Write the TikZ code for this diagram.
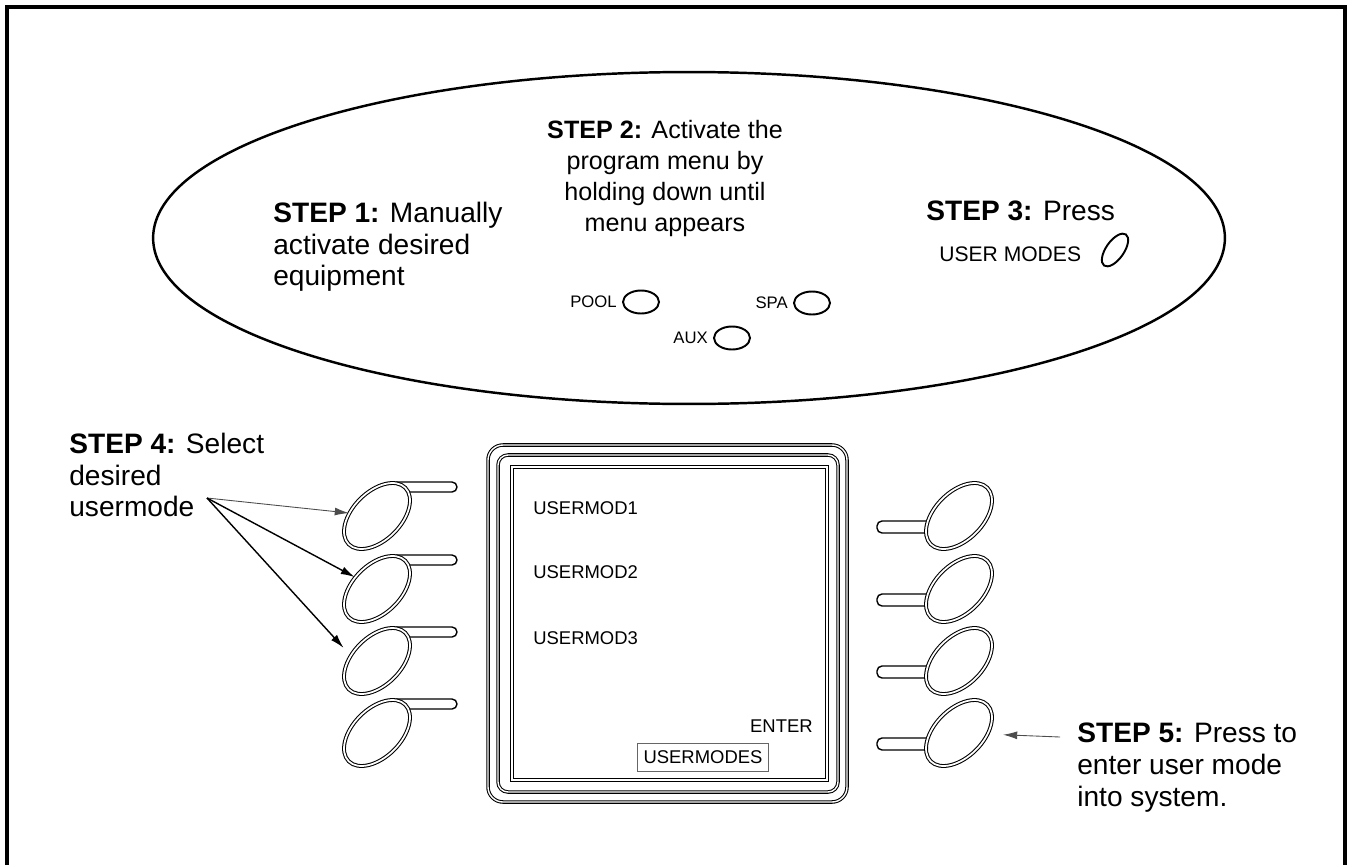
\documentclass[tikz,border=0pt]{standalone}
\usepackage{fontspec}
\setmainfont{Liberation Sans}
\usetikzlibrary{shapes.geometric, arrows.meta, positioning}

\begin{document}
\begin{tikzpicture}[x=0.02cm, y=-0.02cm,
    steptext/.style={font=\fontsize{16}{18}\selectfont, align=left, inner sep=0pt},
    ukey/.style={draw, ellipse, double, line width=.6pt, double distance=1pt, fill=white, minimum width=1.6cm, minimum height=.96cm, inner sep=0pt, rotate=45},
    keystem/.style={draw, line width=.8pt, rounded corners=.1cm},
    modekey/.style={draw, ellipse, line width=1.1pt, minimum width=.72cm, minimum height=.46cm, inner sep=0pt},
    keylabel/.style={font=\fontsize{9.5}{11}\selectfont, inner sep=0pt},
    lcdtext/.style={font=\fontsize{10.5}{12}\selectfont, inner sep=0pt},
    lcdframe/.style={double, line width=.6pt, double distance=.8pt},
    pointer/.style={-{Latex[length=8pt,width=4.5pt]}, line width=.8pt}]
        \useasboundingbox (0,0) rectangle (1351,865);
        \draw[line width=1.8pt] (7,865) -- (7,7) -- (1345,7) -- (1345,865);

        % control panel
        \node[draw, ellipse, line width=1.4pt, minimum width=21.44cm, minimum height=6.64cm, inner sep=0pt] (panel) at (689,238) {};
        \node[steptext, anchor=north west] (step1) at (273,202) {\textbf{STEP 1:} Manually\\activate desired\\equipment};
        \node[steptext, font=\fontsize{14.3}{17.6}\selectfont, align=center, anchor=north] (step2) at (665,120) {\textbf{STEP 2:} Activate the\\program menu by\\holding down until\\menu appears};
        \node[steptext, anchor=base west] (step3) at (926,220) {\textbf{STEP 3:} Press};
        \node[font=\fontsize{12}{14}\selectfont, inner sep=0pt, anchor=base west] (umlabel) at (939,261) {USER MODES};
        \node[modekey, minimum width=.76cm, minimum height=.36cm, rotate=55] (umkey) at (1115,250) {};

        \node[modekey] (pool) at (641,302) {};
        \node[modekey] (spa) at (812,303) {};
        \node[modekey] (aux) at (732,338) {};
        \node[keylabel, left=.1cm of pool] (poollabel) {POOL};
        \node[keylabel, left=.1cm of spa] (spalabel) {SPA};
        \node[keylabel, left=.1cm of aux] (auxlabel) {AUX};

        % display
        \draw[lcdframe, rounded corners=.3cm] (488,445) rectangle (847,802);
        \draw[lcdframe, rounded corners=.2cm] (498,455) rectangle (838,792);
        \draw[lcdframe] (512,467) rectangle (827,780);
        \node[lcdtext, anchor=base west] (mod1) at (533,514) {USERMOD1};
        \node[lcdtext, anchor=base west] (mod2) at (533,578) {USERMOD2};
        \node[lcdtext, anchor=base west] (mod3) at (533,644) {USERMOD3};
        \node[lcdtext, anchor=base east] (enter) at (813,732) {ENTER};
        \node[lcdtext, draw=black!60, line width=.5pt, inner xsep=.12cm, minimum height=.56cm] (umbox) at (703,757) {USERMODES};

        % keys on both sides
        \foreach \i/\y in {1/516, 2/589, 3/661, 4/733} {
            \draw[keystem] (392,\y-34) rectangle (457,\y-24);
            \node[ukey] (l\i) at (377,\y) {};
            \draw[keystem] (877,\y+5) rectangle (944,\y+17);
            \node[ukey] (r\i) at (959,\y) {};
        }

        \node[steptext, anchor=north west] (step4) at (69,433) {\textbf{STEP 4:} Select\\desired\\usermode};
        \coordinate (s4) at (207,498);
        \draw[pointer, line width=.5pt, black!70] (s4) -- (l1);
        \draw[pointer] (s4) -- (l2);
        \draw[pointer, shorten >=.2cm] (s4) -- (l3.123);

        \node[steptext, anchor=north west] (step5) at (1077,723) {\textbf{STEP 5:} Press to\\enter user mode\\into system.};
        \coordinate (s5) at (1060,737);
        \draw[pointer, line width=.5pt, black!70, shorten >=.3cm] (s5) -- (r4);
    \end{tikzpicture}
\end{document}
